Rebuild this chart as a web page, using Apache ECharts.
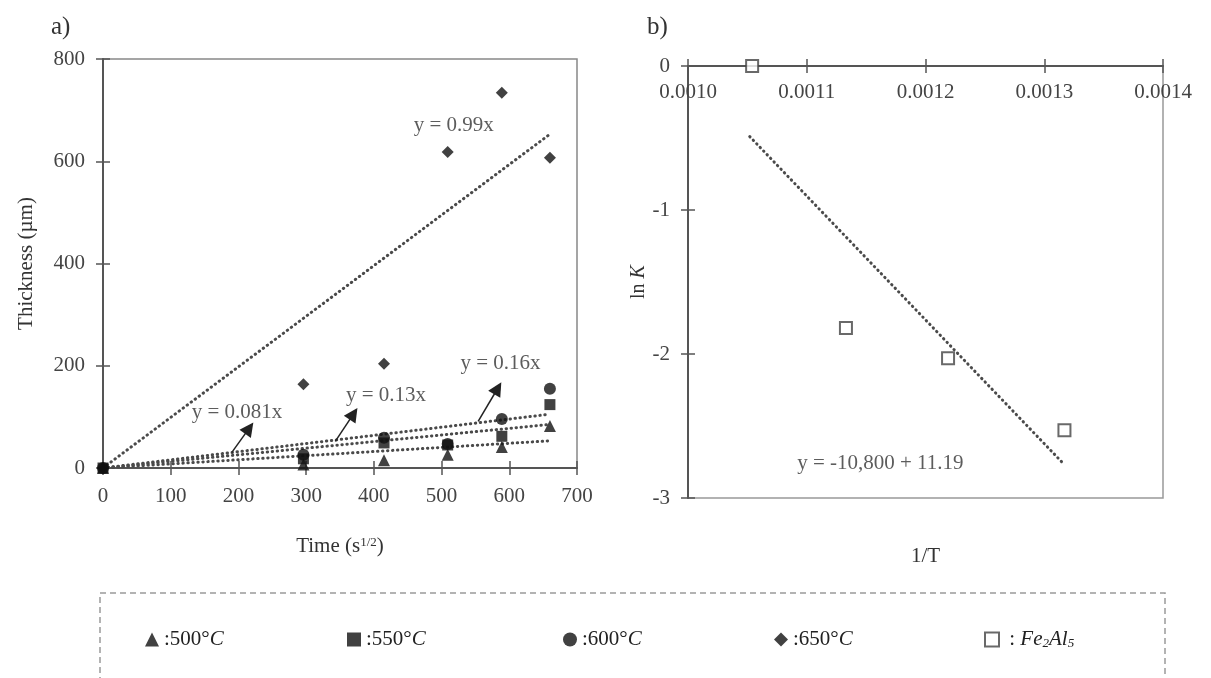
<!DOCTYPE html>
<html>
<head>
<meta charset="utf-8">
<script src="https://cdn.jsdelivr.net/npm/echarts@6/dist/echarts.min.js"></script>
<style>
  html, body { margin: 0; padding: 0; background: #fff; }
  #chart { width: 1211px; height: 678px; }
</style>
</head>
<body>
<div id="chart"></div>
<script>
// panel a: thickness vs sqrt(time)
const timeA = [0, 296, 415, 509, 589, 660];
const t500 = [0, 7, 15, 26, 41, 82];
const t550 = [0, 18, 49, 45, 62, 124];
const t600 = [0, 26, 59, 47, 96, 155];
const t650 = [0, 164, 204, 618, 734, 607];

// fitted lines (end points)
const fitX = [0, 658];
const fit500 = [0, 53];
const fit550 = [0, 85];
const fit600 = [0, 105];
const fit650 = [0, 651];

const eqText = ['y = 0.081x', 'y = 0.13x', 'y = 0.16x', 'y = 0.99x'];
const eqX = [198, 418, 587, 518];
const eqY = [109, 141, 204, 670];

const arrowFrom = [[190, 30], [343, 52], [554, 91]];
const arrowTo = [[216, 78], [370, 106], [583, 156]];

// panel b: ln K vs 1/T
const invT = [0.001054, 0.001133, 0.001219, 0.001317];
const lnK = [0, -1.82, -2.03, -2.53];
const fitBX = [0.001052, 0.001316];
const fitBY = [-0.49, -2.76];
const eqBText = 'y = -10,800 + 11.19';
const eqBPos = [0.001162, -2.76];

const serif = '"Liberation Serif", "Times New Roman", serif';
const txt = '#333';
const axisCol = '#555';

const zip = (xs, ys) => xs.map((x, i) => [x, ys[i]]);

const dotted = {
    color: '#4a4a4a',
    width: 3,
    type: [0.4, 4.6],
    cap: 'round'
};

const tickLabel = { fontFamily: serif, fontSize: 21, color: '#444' };

function tickAxis(extra) {
    // overlay axis that only draws the inner half of a "cross" tick
    return Object.assign({
        type: 'value',
        axisLine: { show: false, onZero: false },
        axisTick: { show: true, inside: true, length: 7, lineStyle: { color: axisCol, width: 1.5 } },
        axisLabel: { show: false },
        splitLine: { show: false }
    }, extra);
}

const legendText = {
    fontFamily: serif,
    fontSize: 21,
    color: '#222',
    rich: {
        i: { fontFamily: serif, fontSize: 21, fontStyle: 'italic', color: '#222' },
        s: { fontFamily: serif, fontSize: 13, fontStyle: 'italic', color: '#222', verticalAlign: 'bottom', lineHeight: 8 }
    }
};
const legendNames = ['500', '550', '600', '650', 'Fe2Al5'];
const legendLeft = [140, 342, 558, 769, 979];
const legendFmt = {
    '500': ':500°{i|C}',
    '550': ':550°{i|C}',
    '600': ':600°{i|C}',
    '650': ':650°{i|C}',
    'Fe2Al5': ' : {i|Fe}{s|2}{i|Al}{s|5}'
};

const option = {
    animation: false,
    title: [
        { text: 'a)', left: 46, top: 10, textStyle: { fontFamily: serif, fontSize: 25, fontWeight: 'normal', color: txt } },
        { text: 'b)', left: 642, top: 10, textStyle: { fontFamily: serif, fontSize: 25, fontWeight: 'normal', color: txt } }
    ],
    legend: legendNames.map((n, i) => ({
        data: [n],
        left: legendLeft[i],
        top: 624,
        itemWidth: 14,
        itemHeight: 14,
        itemGap: 0,
        formatter: (name) => legendFmt[name],
        textStyle: legendText
    })),
    graphic: [{
        type: 'rect',
        shape: { x: 100, y: 593, width: 1065, height: 140 },
        style: { fill: 'none', stroke: '#9a9a9a', lineWidth: 1.5, lineDash: [6, 4] },
        silent: true
    }],
    grid: [
        { left: 103, right: 634, top: 59, bottom: 210, show: true, borderColor: '#888', borderWidth: 1.5 },
        { left: 688, right: 48, top: 66, bottom: 180, show: true, borderColor: '#999', borderWidth: 1.5 }
    ],
    xAxis: [
        {
            gridIndex: 0, type: 'value', min: 0, max: 700, interval: 100,
            axisLine: { show: true, onZero: false, lineStyle: { color: axisCol, width: 2 } },
            axisTick: { show: true, length: 7, lineStyle: { color: axisCol, width: 1.5 } },
            axisLabel: Object.assign({ margin: 18 }, tickLabel),
            splitLine: { show: false },
            name: 'Time (s{sup|1/2})',
            nameLocation: 'middle',
            nameGap: 68,
            nameTextStyle: {
                fontFamily: serif, fontSize: 21, color: txt,
                rich: { sup: { fontFamily: serif, fontSize: 13, color: txt, verticalAlign: 'top', lineHeight: 12 } }
            }
        },
        tickAxis({ gridIndex: 0, position: 'bottom', min: 0, max: 700, interval: 100 }),
        {
            gridIndex: 1, type: 'value', position: 'top', min: 0.001, max: 0.0014, interval: 0.0001,
            axisLine: { show: true, onZero: false, lineStyle: { color: axisCol, width: 2 } },
            axisTick: { show: true, inside: true, length: 7, lineStyle: { color: axisCol, width: 1.5 } },
            axisLabel: Object.assign({ inside: true, margin: 16, formatter: (v) => v.toFixed(4) }, tickLabel),
            splitLine: { show: false }
        },
        tickAxis({
            gridIndex: 1, position: 'top', min: 0.001, max: 0.0014, interval: 0.0001,
            axisTick: { show: true, inside: false, length: 7, lineStyle: { color: axisCol, width: 1.5 } }
        }),
        {
            gridIndex: 1, type: 'value', position: 'bottom', min: 0.001, max: 0.0014,
            axisLine: { show: false, onZero: false },
            axisTick: { show: false },
            axisLabel: { show: false },
            splitLine: { show: false },
            name: '1/T',
            nameLocation: 'middle',
            nameGap: 48,
            nameTextStyle: { fontFamily: serif, fontSize: 21, color: txt }
        }
    ],
    yAxis: [
        {
            gridIndex: 0, type: 'value', min: 0, max: 800, interval: 200,
            axisLine: { show: true, onZero: false, lineStyle: { color: axisCol, width: 2 } },
            axisTick: { show: true, length: 7, lineStyle: { color: axisCol, width: 1.5 } },
            axisLabel: Object.assign({ margin: 18 }, tickLabel),
            splitLine: { show: false },
            name: 'Thickness (µm)',
            nameLocation: 'middle',
            nameGap: 66,
            nameTextStyle: { fontFamily: serif, fontSize: 21, color: txt }
        },
        tickAxis({ gridIndex: 0, position: 'left', min: 0, max: 800, interval: 200 }),
        {
            gridIndex: 1, type: 'value', min: -3, max: 0, interval: 1,
            axisLine: { show: true, onZero: false, lineStyle: { color: axisCol, width: 2 } },
            axisTick: { show: true, length: 7, lineStyle: { color: axisCol, width: 1.5 } },
            axisLabel: Object.assign({ margin: 18 }, tickLabel),
            splitLine: { show: false },
            name: 'ln {i|K}',
            nameLocation: 'middle',
            nameGap: 30,
            nameTextStyle: {
                fontFamily: serif, fontSize: 20, color: txt,
                rich: { i: { fontFamily: serif, fontSize: 20, fontStyle: 'italic', color: txt } }
            }
        },
        tickAxis({ gridIndex: 1, position: 'left', min: -3, max: 0, interval: 1 })
    ],
    series: [
        // fitted dotted lines in panel a
        { type: 'line', xAxisIndex: 0, yAxisIndex: 0, data: zip(fitX, fit500), showSymbol: false, lineStyle: dotted, z: 1, silent: true },
        { type: 'line', xAxisIndex: 0, yAxisIndex: 0, data: zip(fitX, fit550), showSymbol: false, lineStyle: dotted, z: 1, silent: true },
        { type: 'line', xAxisIndex: 0, yAxisIndex: 0, data: zip(fitX, fit600), showSymbol: false, lineStyle: dotted, z: 1, silent: true },
        { type: 'line', xAxisIndex: 0, yAxisIndex: 0, data: zip(fitX, fit650), showSymbol: false, lineStyle: dotted, z: 1, silent: true },
        // measured points
        { name: '500', type: 'scatter', xAxisIndex: 0, yAxisIndex: 0, symbol: 'triangle', symbolSize: 12, itemStyle: { color: '#111' }, data: zip(timeA, t500), z: 3 },
        { name: '550', type: 'scatter', xAxisIndex: 0, yAxisIndex: 0, symbol: 'rect', symbolSize: 11, itemStyle: { color: '#111' }, data: zip(timeA, t550), z: 3 },
        { name: '600', type: 'scatter', xAxisIndex: 0, yAxisIndex: 0, symbol: 'circle', symbolSize: 12, itemStyle: { color: '#111' }, data: zip(timeA, t600), z: 3 },
        { name: '650', type: 'scatter', xAxisIndex: 0, yAxisIndex: 0, symbol: 'diamond', symbolSize: 12, itemStyle: { color: '#111' }, data: zip(timeA, t650), z: 3 },
        // equation labels
        {
            type: 'scatter', xAxisIndex: 0, yAxisIndex: 0, symbolSize: 0, silent: true, z: 4,
            data: eqText.map((t, i) => ({ name: t, value: [eqX[i], eqY[i]] })),
            label: { show: true, position: 'inside', formatter: '{b}', fontFamily: serif, fontSize: 21, color: txt }
        },
        // arrows
        {
            type: 'lines', coordinateSystem: 'cartesian2d', xAxisIndex: 0, yAxisIndex: 0, silent: true, z: 4,
            symbol: ['none', 'triangle'], symbolSize: 14,
            lineStyle: { color: '#222', width: 1.5, opacity: 1 },
            data: arrowFrom.map((p, i) => ({ coords: [p, arrowTo[i]] }))
        },
        // panel b
        { type: 'line', xAxisIndex: 2, yAxisIndex: 2, data: zip(fitBX, fitBY), showSymbol: false, lineStyle: dotted, z: 1, silent: true },
        {
            name: 'Fe2Al5', type: 'scatter', xAxisIndex: 2, yAxisIndex: 2, symbol: 'rect', symbolSize: 12,
            itemStyle: { color: '#fff', borderColor: '#444', borderWidth: 2 },
            data: zip(invT, lnK), z: 3
        },
        {
            type: 'scatter', xAxisIndex: 2, yAxisIndex: 2, symbolSize: 0, silent: true, z: 4,
            data: [{ name: eqBText, value: eqBPos }],
            label: { show: true, position: 'inside', formatter: '{b}', fontFamily: serif, fontSize: 21, color: txt }
        }
    ]
};

const chart = echarts.init(document.getElementById('chart'));
chart.setOption(option);
</script>
</body>
</html>
